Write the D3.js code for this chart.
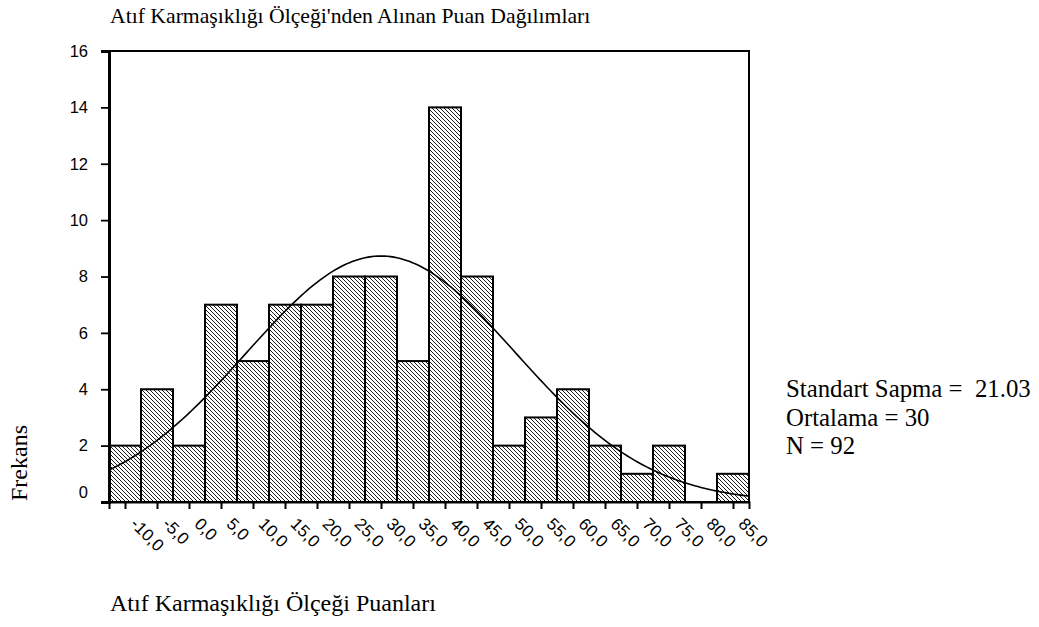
<!DOCTYPE html>
<html>
<head>
<meta charset="utf-8">
<script src="https://cdn.jsdelivr.net/npm/d3@7"></script>
<style>
  body { margin: 0; background: #fff; }
</style>
</head>
<body>
<div id="chart"></div>
<script>
const binMids = [-10, -5, 0, 5, 10, 15, 20, 25, 30, 35, 40, 45, 50, 55, 60, 65, 70, 75, 80, 85];
const counts = [2, 4, 2, 7, 5, 7, 7, 8, 8, 5, 14, 8, 2, 3, 4, 2, 1, 2, 0, 1];
const yTicks = [0, 2, 4, 6, 8, 10, 12, 14, 16];
const stats = { sd: 21.03, mean: 30, n: 92 };
const binWidth = 5;

const width = 1039, height = 627;
const margin = { left: 109, right: 290, top: 51, bottom: 125 };

const svg = d3.select('#chart').append('svg')
  .attr('width', width)
  .attr('height', height);

const x = d3.scaleLinear()
  .domain([binMids[0] - binWidth / 2, binMids[binMids.length - 1] + binWidth / 2])
  .range([margin.left, width - margin.right]);

const y = d3.scaleLinear()
  .domain([0, 16])
  .range([height - margin.bottom, margin.top]);

// hatch pattern
const pat = svg.append('defs').append('pattern')
  .attr('id', 'hatch')
  .attr('patternUnits', 'userSpaceOnUse')
  .attr('width', 4)
  .attr('height', 4);
pat.append('path')
  .attr('d', 'M-1,-1 L5,5 M-1,3 L1,5 M3,-1 L5,1')
  .attr('stroke', '#000')
  .attr('stroke-width', 0.9);

// frame
svg.append('rect')
  .attr('x', x.range()[0])
  .attr('y', y(16))
  .attr('width', x.range()[1] - x.range()[0])
  .attr('height', y(0) - y(16))
  .attr('fill', 'none')
  .attr('stroke', '#000')
  .attr('stroke-width', 2);

// bars
svg.selectAll('rect.bar')
  .data(binMids.map((m, i) => ({ m, c: counts[i] })).filter(d => d.c > 0))
  .enter()
  .append('rect')
    .attr('class', 'bar')
    .attr('x', d => x(d.m - binWidth / 2))
    .attr('y', d => y(d.c))
    .attr('width', d => x(d.m + binWidth / 2) - x(d.m - binWidth / 2))
    .attr('height', d => y(0) - y(d.c))
    .attr('fill', 'url(#hatch)')
    .attr('stroke', '#000')
    .attr('stroke-width', 2);

// normal curve from mean, sd, n
const scale = stats.n * binWidth / (stats.sd * Math.sqrt(2 * Math.PI));
const xs = d3.range(x.domain()[0], x.domain()[1] + 0.01, 0.5);
svg.append('path')
  .datum(xs)
  .attr('fill', 'none')
  .attr('stroke', '#000')
  .attr('stroke-width', 1.6)
  .attr('d', d3.line()
    .x(v => x(v))
    .y(v => y(scale * Math.exp(-0.5 * Math.pow((v - stats.mean) / stats.sd, 2)))));

// y axis
const yAxis = svg.append('g')
  .attr('transform', `translate(${x.range()[0]},0)`)
  .call(d3.axisLeft(y).tickValues(yTicks).tickSize(8).tickPadding(13));
yAxis.select('.domain').attr('stroke-width', 3);
yAxis.selectAll('.tick line').attr('stroke-width', 1.8);
yAxis.selectAll('text')
  .attr('font-family', 'Liberation Sans, Arial, sans-serif')
  .attr('font-size', 16.5)
  .attr('fill', '#000')
  .attr('dy', d => d === 0 ? '-0.3em' : '0.32em');

// x axis
const xAxis = svg.append('g')
  .attr('transform', `translate(0,${y(0)})`)
  .call(d3.axisBottom(x).tickValues(binMids).tickSize(7).tickFormat(''));
xAxis.select('.domain').attr('stroke-width', 2);
xAxis.selectAll('.tick line').attr('stroke-width', 2);
xAxis.selectAll('.tick')
  .append('text')
    .attr('transform', 'translate(4,23) rotate(45)')
    .attr('text-anchor', 'start')
    .attr('font-family', 'Liberation Sans, Arial, sans-serif')
    .attr('font-size', 17)
    .attr('fill', '#000')
    .text(d => d.toFixed(1).replace('.', ','));

const serif = 'Liberation Serif, Times New Roman, serif';

svg.append('text')
  .attr('x', 110).attr('y', 23)
  .attr('font-family', serif).attr('font-size', 21.7)
  .text("Atıf Karmaşıklığı Ölçeği'nden Alınan Puan Dağılımları");

svg.append('text')
  .attr('x', 110).attr('y', 611)
  .attr('font-family', serif).attr('font-size', 24)
  .text('Atıf Karmaşıklığı Ölçeği Puanları');

svg.append('text')
  .attr('transform', 'translate(27,463) rotate(-90)')
  .attr('text-anchor', 'middle')
  .attr('font-family', serif).attr('font-size', 24)
  .text('Frekans');

const statLines = [
  'Standart Sapma =  ' + stats.sd.toFixed(2),
  'Ortalama = ' + stats.mean,
  'N = ' + stats.n
];
svg.selectAll('text.stat')
  .data(statLines)
  .enter()
  .append('text')
    .attr('class', 'stat')
    .attr('x', 786)
    .attr('y', (d, i) => 397 + i * 28.5)
    .attr('font-family', serif)
    .attr('font-size', 24.8)
    .style('white-space', 'pre')
    .text(d => d);
</script>
</body>
</html>
